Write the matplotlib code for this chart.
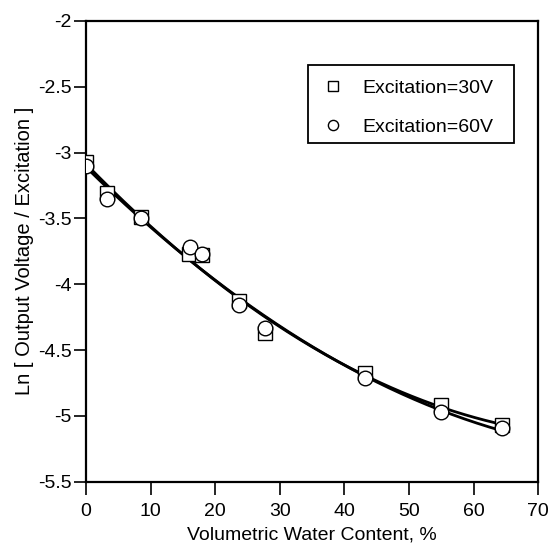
import numpy as np
import matplotlib
matplotlib.use("Agg")
import matplotlib.pyplot as plt
from matplotlib.patches import Rectangle

plt.rcParams["font.family"] = ["Liberation Sans", "DejaVu Sans"]

# water content (%) and ln(Vout/Vexc) for both excitations
water_30 = [0.0, 3.2, 8.5, 16.0, 18.0, 23.6, 27.7, 43.2, 55.0, 64.4]
ln_30 = [-3.07, -3.31, -3.49, -3.77, -3.78, -4.13, -4.37, -4.67, -4.92, -5.07]
water_60 = [0.0, 3.2, 8.5, 16.1, 18.0, 23.6, 27.7, 43.2, 55.0, 64.4]
ln_60 = [-3.10, -3.35, -3.50, -3.72, -3.77, -4.16, -4.33, -4.71, -4.97, -5.09]

xticks = [0, 10, 20, 30, 40, 50, 60, 70]
yticks = [-2, -2.5, -3, -3.5, -4, -4.5, -5, -5.5]

fig = plt.figure(figsize=(5.52, 5.5), dpi=100)
ax = fig.add_axes([0.156, 0.124, 0.819, 0.838])

# second-order regression curve for each set
for xs, ys in [(water_30, ln_30), (water_60, ln_60)]:
    coef = np.polyfit(xs, ys, 2)
    xx = np.linspace(min(xs), max(xs), 200)
    ax.plot(xx, np.polyval(coef, xx), color="black", lw=2.0, zorder=2)

ax.plot(water_30, ln_30, ls="none", marker="s", ms=10, mfc="white",
        mec="black", mew=1.0, label="Excitation=30V", zorder=3)
ax.plot(water_60, ln_60, ls="none", marker="o", ms=10.5, mfc="white",
        mec="black", mew=1.0, label="Excitation=60V", zorder=3)

ax.set_xlim(0, 70)
ax.set_ylim(-5.5, -2)
ax.set_xticks(xticks)
ax.set_yticks(yticks)
ax.set_yticklabels([f"{t:g}" for t in yticks])
ax.tick_params(direction="out", length=9, width=1.2, labelsize=14,
               top=False, right=False)
ax.tick_params(axis="x", pad=6)
ax.tick_params(axis="y", pad=1.5)
for s in ax.spines.values():
    s.set_linewidth(1.6)

ax.set_xlabel("Volumetric Water Content, %", fontsize=14, labelpad=5)
ax.set_ylabel("Ln [ Output Voltage / Excitation ]", fontsize=14.5, labelpad=3)

leg = ax.legend(loc="upper left", bbox_to_anchor=(0.514, 0.874), fontsize=14,
                frameon=False, handlelength=1.5, handletextpad=0.75,
                labelspacing=1.1, borderpad=0, borderaxespad=0,
                markerscale=0.7)
ax.add_patch(Rectangle((0.491, 0.735), 0.456, 0.17, transform=ax.transAxes,
                       fill=False, ec="black", lw=1.3, zorder=4))

fig.savefig("out.png", dpi=100)
